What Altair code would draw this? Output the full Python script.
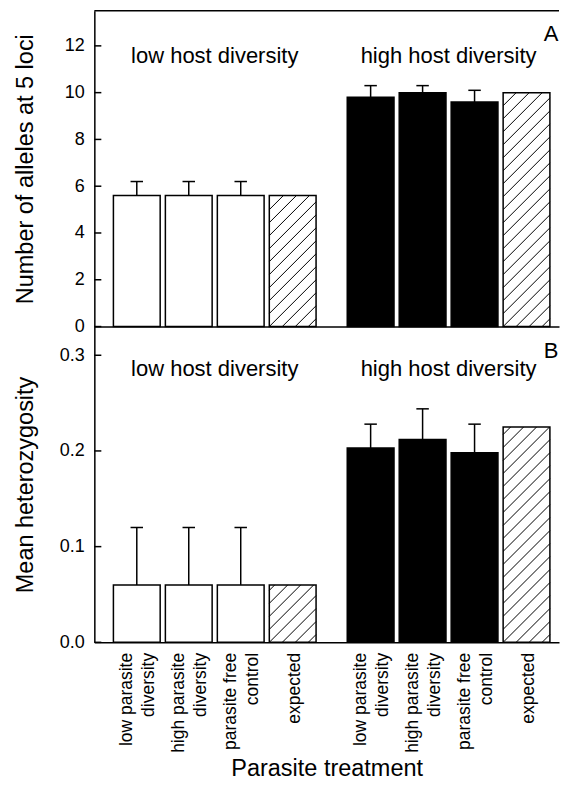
import json
import altair as alt
import pandas as pd

# ---------------- data ----------------
treatment_lines = [["low parasite", "diversity"], ["high parasite", "diversity"],
                   ["parasite free", "control"], ["expected"]] * 2
host_group = ["low host diversity"] * 4 + ["high host diversity"] * 4
bar_kind = ["low", "low", "low", "expected", "high", "high", "high", "expected"]

alleles = [5.6, 5.6, 5.6, 5.6, 9.8, 10.0, 9.6, 10.0]
alleles_err_top = [6.2, 6.2, 6.2, None, 10.3, 10.3, 10.1, None]

heterozyg = [0.06, 0.06, 0.06, 0.06, 0.203, 0.212, 0.198, 0.225]
heterozyg_err_top = [0.12, 0.12, 0.12, None, 0.228, 0.244, 0.228, None]

alleles_ticks = [0, 2, 4, 6, 8, 10, 12]
heterozyg_ticks = [0.0, 0.1, 0.2, 0.3]

# ---------------- layout ----------------
W, H = 465, 316
FONT = "Liberation Sans"
GROUP_GAP = 0.5          # extra slot between the two host groups
HALF_BAR = 0.45
X_DOMAIN = [-0.817, 8.125]
PX_X = W / (X_DOMAIN[1] - X_DOMAIN[0])

positions = [i + (GROUP_GAP if i >= 4 else 0) for i in range(len(alleles))]
tick_positions = positions
single_line_ticks = [p for p, l in zip(positions, treatment_lines) if len(l) == 1]

xscale = alt.Scale(domain=X_DOMAIN, nice=False, zero=False)
fill_scale = alt.Scale(domain=["low", "high", "expected"], range=["white", "black", "white"])

label_expr = "{}[datum.value < 4 ? round(datum.value) : round(datum.value - {})]".format(
    json.dumps(treatment_lines), GROUP_GAP)
single_test = " || ".join("datum.value == {}".format(p) for p in single_line_ticks)


def x_axis(show):
    if show:
        return alt.Axis(values=tick_positions, labelExpr=label_expr, labelAngle=270,
                        labelAlign="right", labelBaseline="middle", labelPadding=10,
                        labelOffset={"condition": {"test": single_test, "value": 1.5},
                                     "value": -10.5},
                        labelFontSize=17.5, labelLineHeight=22, labelFont=FONT,
                        labelColor="black", labelOverlap=False, labelFlush=False,
                        labelBound=False, ticks=False, grid=False, domainColor="black",
                        domainWidth=1.5, title="Parasite treatment", titleFont=FONT,
                        titleFontSize=23.5, titleFontWeight="normal", titleColor="black",
                        titleBaseline="alphabetic", titleY=133)
    return alt.Axis(labels=False, ticks=False, grid=False, domainColor="black",
                    domainWidth=1.5, title=None)


def panel(values, err_top, ymax, yticks, fmt, ylabel, letter, text_y, bottom):
    px_y = H / ymax
    yscale = alt.Scale(domain=[0, ymax], nice=False, zero=True)
    yaxis = alt.Axis(values=yticks, format=fmt, ticks=False, grid=False, domainColor="black",
                     domainWidth=1.5, labelFont=FONT, labelFontSize=18, labelColor="black",
                     labelPadding=10, labelFlush=False, title=ylabel, titleFont=FONT,
                     titleFontSize=23.5, titleFontWeight="normal", titleColor="black",
                     titleAngle=270, titleBaseline="alphabetic", titleX=-62)
    xaxis = x_axis(bottom)

    bars = pd.DataFrame({
        "x0": [p - HALF_BAR for p in positions],
        "x1": [p + HALF_BAR for p in positions],
        "pos": positions,
        "value": values,
        "kind": bar_kind,
    })
    bars["base"] = 0.0
    err = pd.DataFrame({"pos": positions, "value": values, "top": err_top}).dropna()
    err["c0"] = err["pos"] - 0.12
    err["c1"] = err["pos"] + 0.12

    # diagonal hatching for the "expected" bars, clipped to each bar
    rows = []
    spacing = 13.0
    for _, r in bars[bars.kind == "expected"].iterrows():
        w = (r.x1 - r.x0) * PX_X
        h = r.value * px_y
        c = -w + spacing * 0.6
        while c < h:
            us, ue = max(0.0, -c), min(w, h - c)
            if ue > us:
                rows.append({"hx": r.x0 + us / PX_X, "hx2": r.x0 + ue / PX_X,
                             "hy": (us + c) / px_y, "hy2": (ue + c) / px_y})
            c += spacing
    hatch = pd.DataFrame(rows)

    groups = pd.DataFrame({
        "xc": [sum(positions[:4]) / 4, sum(positions[4:]) / 4],
        "y": [text_y, text_y],
        "text": [host_group[0], host_group[4]],
    })
    ticks_df = pd.DataFrame({"t": yticks})

    X = lambda f: alt.X(f, scale=xscale, axis=xaxis)
    Y = lambda f: alt.Y(f, scale=yscale, axis=yaxis)

    bar_layer = alt.Chart(bars).mark_rect(stroke="black", strokeWidth=1.5).encode(
        x=X("x0:Q"), x2="x1:Q", y=Y("value:Q"), y2="base:Q",
        fill=alt.Fill("kind:N", scale=fill_scale, legend=None))
    hatch_layer = alt.Chart(hatch).mark_rule(color="black", strokeWidth=1).encode(
        x=X("hx:Q"), x2="hx2:Q", y=Y("hy:Q"), y2="hy2:Q")
    err_line = alt.Chart(err).mark_rule(color="black", strokeWidth=1.5).encode(
        x=X("pos:Q"), y=Y("value:Q"), y2="top:Q")
    err_cap = alt.Chart(err).mark_rule(color="black", strokeWidth=1.5).encode(
        x=X("c0:Q"), x2="c1:Q", y=Y("top:Q"))
    text_layer = alt.Chart(groups).mark_text(font=FONT, fontSize=22, color="black",
                                              baseline="middle", align="center").encode(
        x=X("xc:Q"), y=Y("y:Q"), text="text:N")
    tick_layer = alt.Chart(ticks_df).mark_rule(color="black", strokeWidth=1.5).encode(
        y=Y("t:Q"), x=alt.value(0), x2=alt.value(7))
    letter_layer = alt.Chart(groups.head(1)).mark_text(
        font=FONT, fontSize=22, color="black", align="center", baseline="alphabetic").encode(
        x=alt.value(W - 8), y=alt.value(30 if letter == "A" else 31),
        text=alt.value(letter))

    layers = [bar_layer, hatch_layer, err_line, err_cap, text_layer, tick_layer, letter_layer]
    if letter == "A":
        top_line = alt.Chart(groups.head(1)).mark_rule(color="black", strokeWidth=1.5).encode(
            x=alt.value(0), x2=alt.value(W), y=alt.value(0))
        layers.append(top_line)
    return alt.layer(*layers).properties(width=W, height=H)


panel_a = panel(alleles, alleles_err_top, 13.5, alleles_ticks, "d",
                "Number of alleles at 5 loci", "A", 11.57, False)
panel_b = panel(heterozyg, heterozyg_err_top, 0.33, heterozyg_ticks, ".1f",
                "Mean heterozygosity", "B", 0.286, True)

chart = alt.vconcat(panel_a, panel_b, spacing=0, bounds="flush").configure_view(
    stroke=None).properties(
    padding={"left": 5.4, "top": 1.5, "right": 0, "bottom": 0},
    background="white")

chart.save("out.html", embed_options={"renderer": "svg", "actions": False})
